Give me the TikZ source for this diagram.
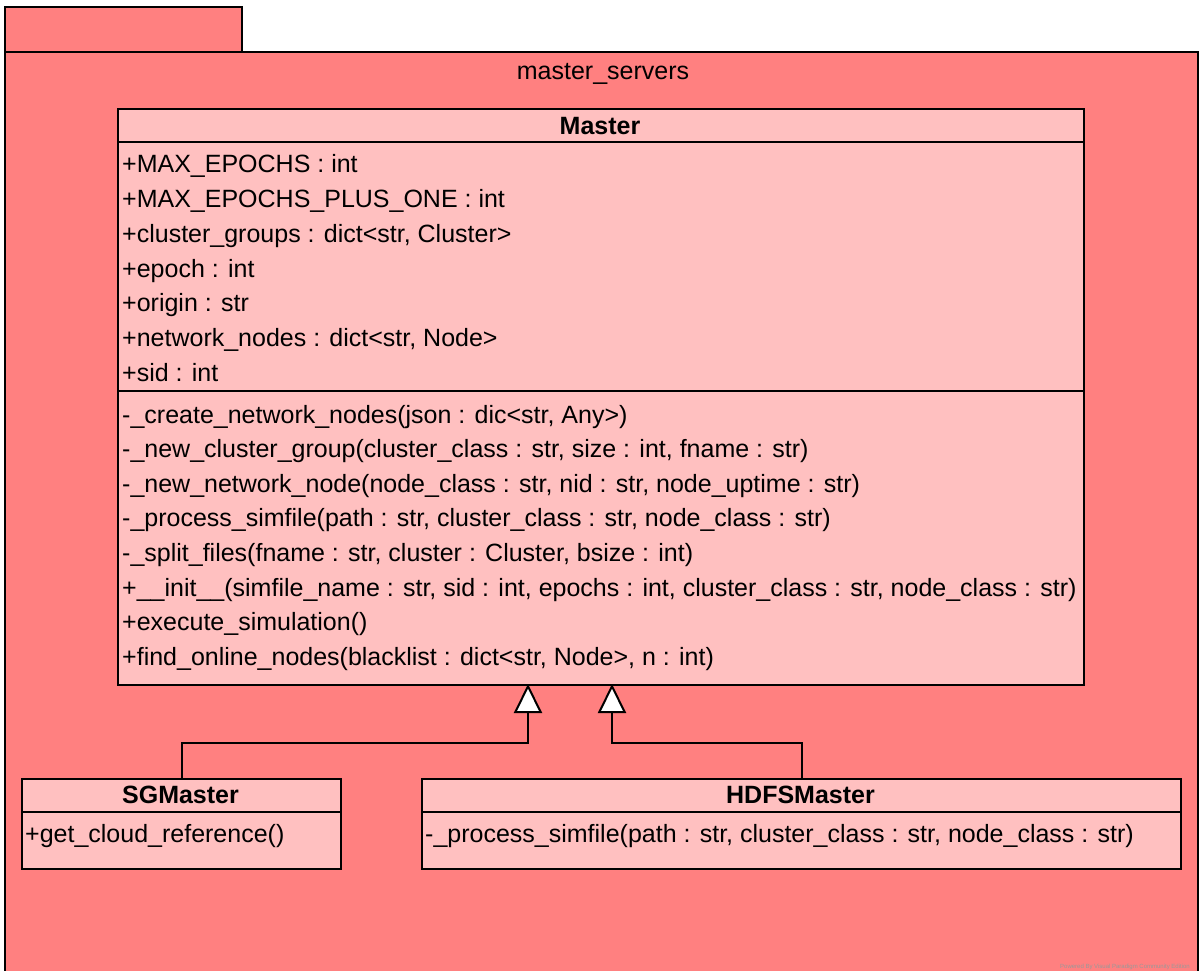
\documentclass[tikz,border=0pt]{standalone}
\usepackage{fontspec}
\setmainfont{Liberation Sans}
\usetikzlibrary{arrows.meta}
\definecolor{pkgfill}{RGB}{255,128,128}
\definecolor{clsfill}{RGB}{255,192,192}
\tikzset{
  pkg/.style={draw=black, line width=2pt, fill=pkgfill},
  cls/.style={draw=black, line width=2pt, fill=clsfill, inner sep=0pt, anchor=north west},
  sep/.style={draw=black, line width=2pt},
  member/.style={anchor=base west, inner sep=0pt, font=\fontsize{25}{30}\selectfont},
  title/.style={anchor=base, inner sep=0pt, font=\fontsize{25}{30}\selectfont\bfseries},
  pkgname/.style={anchor=base, inner sep=0pt, font=\fontsize{25}{30}\selectfont},
  inherit/.style={draw=black, line width=2pt,
    -{Triangle[open, length=29pt, width=28pt, fill=white]}},
  mark text/.style={anchor=base east, inner sep=0pt, text=gray!80, font=\fontsize{6}{7}\selectfont}
}
\begin{document}
\begin{tikzpicture}[x=1pt, y=-1pt]
  \useasboundingbox (0,0) rectangle (1203,971);
  \clip (0,0) rectangle (1203,971);

  % package master_servers: tab and body
  \path[pkg] (5,7) rectangle (242,52);
  \path[pkg] (5,52) rectangle (1198,990);
  \node[pkgname] (pkglabel) at (603,80) {master\_servers};

  % class Master
  \node[cls, minimum width=966pt, minimum height=576pt] (master) at (117,108) {};
  \draw[sep] (117,142) -- (1083,142);
  \draw[sep] (117,391) -- (1083,391);
  \node[title] (mastertitle) at (600,135) {Master};
  \foreach \t [count=\i from 0] in {
      +MAX\_EPOCHS : int,
      +MAX\_EPOCHS\_PLUS\_ONE : int,
      {+cluster\_groups : dict<str, Cluster>},
      +epoch : int,
      +origin : str,
      {+network\_nodes : dict<str, Node>},
      +sid : int}
    \node[member] (attr\i) at (122,173+34.7*\i) {\t};
  \foreach \t [count=\i from 0] in {
      {-\_create\_network\_nodes(json : dic<str, Any>)},
      {-\_new\_cluster\_group(cluster\_class : str, size : int, fname : str)},
      {-\_new\_network\_node(node\_class : str, nid : str, node\_uptime : str)},
      {-\_process\_simfile(path : str, cluster\_class : str, node\_class : str)},
      {-\_split\_files(fname : str, cluster : Cluster, bsize : int)},
      {+\_\_init\_\_(simfile\_name : str, sid : int, epochs : int, cluster\_class : str, node\_class : str)},
      +execute\_simulation(),
      {+find\_online\_nodes(blacklist : dict<str, Node>, n : int)}}
    \node[member] (op\i) at (122,423+34.6*\i) {\t};

  % class SGMaster
  \node[cls, minimum width=319pt, minimum height=90pt] (sg) at (21,778) {};
  \draw[sep] (21,812) -- (340,812);
  \node[title] (sgtitle) at (180.5,803) {SGMaster};
  \node[member] (sgop) at (25,842) {+get\_cloud\_reference()};

  % class HDFSMaster
  \node[cls, minimum width=759pt, minimum height=90pt] (hdfs) at (421,778) {};
  \draw[sep] (421,812) -- (1180,812);
  \node[title] (hdfstitle) at (800.5,803) {HDFSMaster};
  \node[member] (hdfsop) at (425,842) {-\_process\_simfile(path : str, cluster\_class : str, node\_class : str)};

  % generalisations
  \coordinate (tipsg) at (528,684);
  \coordinate (tiphdfs) at (612,684);
  \draw[inherit] (sg.north) -- ++(0,-35) -| (tipsg);
  \draw[inherit] (hdfs.north) -- ++(0,-35) -| (tiphdfs);

  \node[mark text] (wm) at (1190,968.5) {Powered By Visual Paradigm Community Edition};
\end{tikzpicture}
\end{document}
